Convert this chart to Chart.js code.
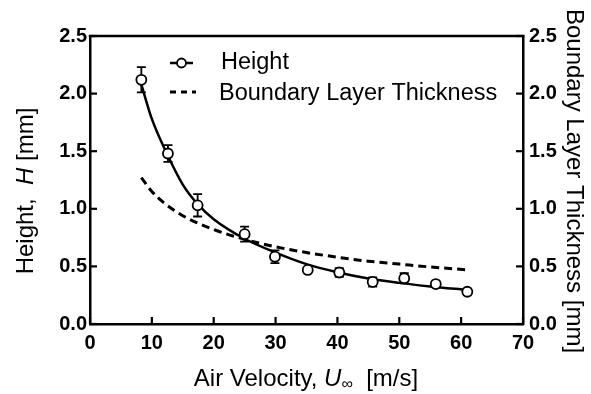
<!DOCTYPE html>
<html>
<head>
<meta charset="utf-8">
<script src="https://cdn.jsdelivr.net/npm/chart.js@4.4.1/dist/chart.umd.min.js"></script>
<style>
  html, body { margin: 0; padding: 0; background: #ffffff; }
  #wrap { width: 591px; height: 394px; }
</style>
</head>
<body>
<div id="wrap"><canvas id="c" width="591" height="394"></canvas></div>
<script>
// ---- data ----
const velocity   = [8.3, 12.6, 17.4, 25.0, 29.9, 35.2, 40.3, 45.7, 50.8, 55.9, 61.0];
const height     = [2.12, 1.48, 1.03, 0.78, 0.584, 0.469, 0.447, 0.365, 0.397, 0.347, 0.28];
const heightErr  = [0.11, 0.072, 0.097, 0.065, 0.055, 0.02, 0.038, 0.04, 0.045, 0.02, 0.015];
const fitVelocity = [8.3, 10, 12.6, 15, 17.4, 20, 25, 30, 35, 40, 45, 50, 55, 61];
const fitHeight   = [2.08, 1.78, 1.46, 1.21, 1.04, 0.91, 0.74, 0.62, 0.52, 0.45, 0.395, 0.357, 0.326, 0.295];
const blVelocity  = [8.3, 10, 12, 15, 20, 25, 30, 35, 40, 45, 50, 55, 61];
const blThickness = [1.27, 1.15, 1.05, 0.94, 0.82, 0.735, 0.67, 0.62, 0.58, 0.545, 0.52, 0.495, 0.47];
const xTicks = [0, 10, 20, 30, 40, 50, 60, 70];
const yTicks = [0.0, 0.5, 1.0, 1.5, 2.0, 2.5];
const legendLabels = ['Height', 'Boundary Layer Thickness'];

const FONT = '"Liberation Sans", Arial, Helvetica, sans-serif';
const toXY = (xs, ys) => xs.map((x, i) => ({ x: x, y: ys[i] }));

const frame = {
  id: 'frame',
  beforeDatasetsDraw(chart) {
    const ctx = chart.ctx;
    const xs = chart.scales.x, ys = chart.scales.y;
    ctx.save();
    ctx.strokeStyle = '#000';
    ctx.lineWidth = 1.8;
    velocity.forEach((v, i) => {
      const px = xs.getPixelForValue(v);
      const top = ys.getPixelForValue(height[i] + heightErr[i]);
      const bot = ys.getPixelForValue(height[i] - heightErr[i]);
      ctx.beginPath();
      ctx.moveTo(px, top); ctx.lineTo(px, bot);
      ctx.moveTo(px - 4.5, top); ctx.lineTo(px + 4.5, top);
      ctx.moveTo(px - 4.5, bot); ctx.lineTo(px + 4.5, bot);
      ctx.stroke();
    });
    ctx.restore();
  },
  afterDraw(chart) {
    const ctx = chart.ctx;
    const a = chart.chartArea;
    const xs = chart.scales.x, ys = chart.scales.y, y2 = chart.scales.y2;
    ctx.save();
    ctx.strokeStyle = '#000';
    ctx.lineWidth = 2.5;
    ctx.lineCap = 'square';
    // top border
    ctx.beginPath();
    ctx.moveTo(a.left, a.top); ctx.lineTo(a.right, a.top);
    ctx.stroke();
    // inward ticks
    ctx.lineCap = 'butt';
    ctx.lineWidth = 2.2;
    const TL = 7;
    xs.ticks.forEach((t, i) => {
      const p = xs.getPixelForTick(i);
      ctx.beginPath(); ctx.moveTo(p, a.bottom); ctx.lineTo(p, a.bottom - TL); ctx.stroke();
    });
    ys.ticks.forEach((t, i) => {
      const p = ys.getPixelForTick(i);
      ctx.beginPath(); ctx.moveTo(a.left, p); ctx.lineTo(a.left + TL, p); ctx.stroke();
    });
    y2.ticks.forEach((t, i) => {
      const p = y2.getPixelForTick(i);
      ctx.beginPath(); ctx.moveTo(a.right, p); ctx.lineTo(a.right - TL, p); ctx.stroke();
    });

    // legend
    ctx.lineWidth = 2.5;
    ctx.beginPath(); ctx.moveTo(170, 63); ctx.lineTo(193, 63); ctx.stroke();
    ctx.beginPath(); ctx.arc(181.5, 63, 4.5, 0, Math.PI * 2);
    ctx.fillStyle = '#fff'; ctx.fill();
    ctx.lineWidth = 1.8; ctx.stroke();
    ctx.lineWidth = 3;
    ctx.setLineDash([6, 5]);
    ctx.beginPath(); ctx.moveTo(170, 92); ctx.lineTo(196, 92); ctx.stroke();
    ctx.setLineDash([]);
    ctx.fillStyle = '#000';
    ctx.textBaseline = 'alphabetic';
    ctx.textAlign = 'left';
    ctx.font = '23.5px ' + FONT;
    ctx.fillText(legendLabels[0], 221, 69);
    ctx.fillText(legendLabels[1], 219, 100);

    // helper for mixed-style text
    function runs(parts) {
      let w = 0;
      parts.forEach(p => { ctx.font = p.f; p.w = ctx.measureText(p.t).width; w += p.w; });
      return w;
    }
    function drawRuns(parts, x0, y0) {
      let x = x0;
      parts.forEach(p => { ctx.font = p.f; ctx.fillText(p.t, x, y0 + (p.dy || 0)); x += p.w; });
    }
    const N = '24px ' + FONT, I = 'italic 24px ' + FONT, S = '16px ' + FONT;

    // x title
    const xt = [{ t: 'Air Velocity, ', f: N }, { t: 'U', f: I }, { t: '\u221E', f: S, dy: 3 }, { t: '  [m/s]', f: N }];
    let w = runs(xt);
    drawRuns(xt, 306 - w / 2, 386);

    // left title
    const lt = [{ t: 'Height,  ', f: N }, { t: 'H', f: I }, { t: ' [mm]', f: N }];
    w = runs(lt);
    ctx.save();
    ctx.translate(33, 191);
    ctx.rotate(-Math.PI / 2);
    drawRuns(lt, -w / 2, 0);
    ctx.restore();

    // right title
    const rt = [{ t: 'Boundary Layer Thickness [mm]', f: N }];
    w = runs(rt);
    ctx.save();
    ctx.translate(567, 181);
    ctx.rotate(Math.PI / 2);
    drawRuns(rt, -w / 2, 0);
    ctx.restore();

    ctx.restore();
  }
};

const tickFont = { family: FONT, size: 20, weight: 'bold' };

new Chart(document.getElementById('c'), {
  type: 'scatter',
  data: {
    datasets: [
      {
        label: legendLabels[0] + ' data',
        data: toXY(velocity, height),
        yAxisID: 'y',
        showLine: false,
        pointRadius: 5,
        pointBackgroundColor: '#ffffff',
        pointBorderColor: '#000000',
        pointBorderWidth: 1.8,
        order: 0
      },
      {
        label: legendLabels[0],
        data: toXY(fitVelocity, fitHeight),
        yAxisID: 'y',
        showLine: true,
        pointRadius: 0,
        borderColor: '#000000',
        borderWidth: 2.5,
        cubicInterpolationMode: 'monotone',
        order: 1
      },
      {
        label: legendLabels[1],
        data: toXY(blVelocity, blThickness),
        yAxisID: 'y2',
        showLine: true,
        pointRadius: 0,
        borderColor: '#000000',
        borderWidth: 3,
        borderDash: [8, 5],
        cubicInterpolationMode: 'monotone',
        order: 2
      }
    ]
  },
  options: {
    responsive: false,
    animation: false,
    devicePixelRatio: 1,
    layout: { padding: { top: 36, left: 0, right: 0, bottom: 0 } },
    plugins: { legend: { display: false }, tooltip: { enabled: false } },
    scales: {
      x: {
        type: 'linear', min: 0, max: 70,
        afterBuildTicks: s => { s.ticks = xTicks.map(v => ({ value: v })); },
        afterFit: s => { s.height = 70; },
        ticks: { font: tickFont, color: '#000', padding: 7, maxRotation: 0 },
        grid: { display: false, drawTicks: false },
        border: { display: true, color: '#000', width: 2.5 }
      },
      y: {
        type: 'linear', position: 'left', min: 0, max: 2.5,
        afterBuildTicks: s => { s.ticks = yTicks.map(v => ({ value: v })); },
        afterFit: s => { s.width = 90; },
        ticks: { font: tickFont, color: '#000', padding: 3, callback: v => v.toFixed(1) },
        grid: { display: false, drawTicks: false },
        border: { display: true, color: '#000', width: 2.5 }
      },
      y2: {
        type: 'linear', position: 'right', min: 0, max: 2.5,
        afterBuildTicks: s => { s.ticks = yTicks.map(v => ({ value: v })); },
        afterFit: s => { s.width = 68; },
        ticks: { font: tickFont, color: '#000', padding: 6, callback: v => v.toFixed(1) },
        grid: { display: false, drawTicks: false },
        border: { display: true, color: '#000', width: 2.5 }
      }
    }
  },
  plugins: [frame]
});
</script>
</body>
</html>
